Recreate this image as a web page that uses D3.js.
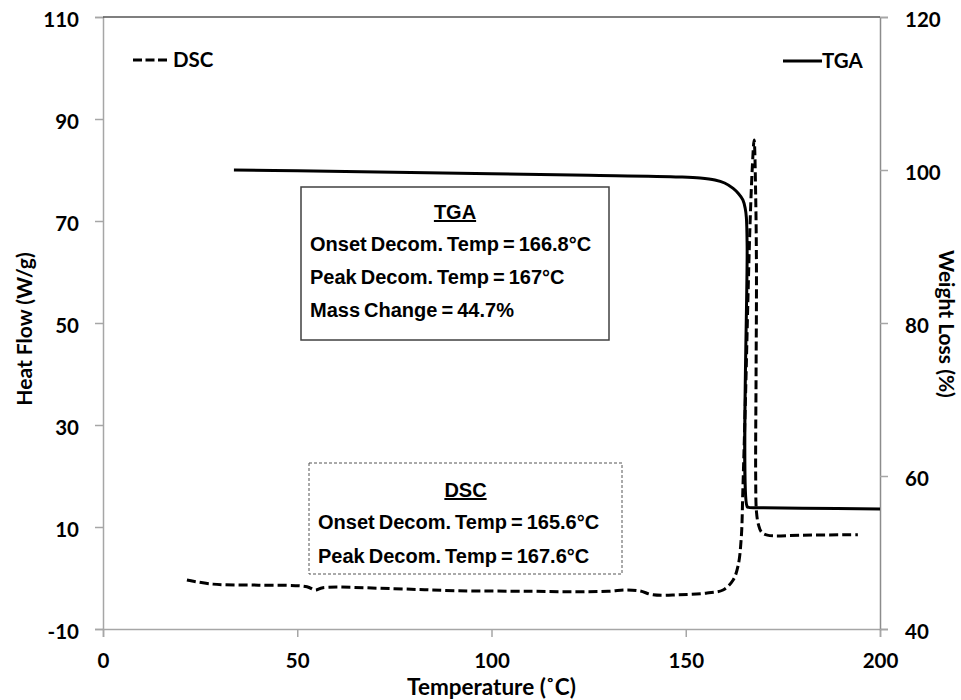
<!DOCTYPE html>
<html>
<head>
<meta charset="utf-8">
<script src="https://cdn.jsdelivr.net/npm/d3@7"></script>
<style>
  html, body { margin: 0; padding: 0; background: #fff; }
  svg { display: block; }
  .tick text { font-family: Lato, "Open Sans", sans-serif; font-weight: 700; font-size: 20.5px; fill: #000; }
  .title { font-family: Lato, "Open Sans", sans-serif; font-weight: 700; font-size: 21px; fill: #000; }
  .note { font-family: "Liberation Sans", Arial, sans-serif; font-weight: 700; font-size: 20px; fill: #000; word-spacing: -1.5px; }
</style>
</head>
<body>
<script>
// Temperature (°C) and DSC heat flow (W/g)
const dscTemp = [21.6, 28.3, 40, 52.5, 54.6, 56.6, 75, 91.1, 110, 121, 130, 134.9, 138.2, 141.6, 148, 155.5, 159.6, 162.2, 163.5, 164.3, 164.7, 165.4, 166.0, 166.5, 167.1, 167.6, 168.0, 168.2, 168.1, 168.0, 168.2, 168.7, 169.5, 171, 180, 194.3];
const dscFlow = [-0.4, -1.2, -1.4, -1.7, -2.35, -1.9, -2.1, -2.5, -2.6, -2.7, -2.6, -2.35, -2.55, -3.3, -3.3, -2.95, -2.35, -0.4, 2.5, 8, 17.3, 36, 54.5, 68.2, 80, 85.9, 75, 60, 40, 20, 13, 10.5, 9.0, 8.4, 8.4, 8.5];

// Temperature (°C) and TGA weight (%)
const tgaTemp = [33.7, 50, 75, 100, 125, 148.5, 153.7, 157.5, 160, 162.2, 163.6, 164.7, 165.3, 165.6, 165.8, 165.8, 166.2, 170, 180, 200];
const tgaWeight = [100.0, 99.9, 99.7, 99.5, 99.3, 99.08, 98.95, 98.7, 98.3, 97.6, 96.9, 96.1, 95.0, 93.8, 90, 56.0, 55.9, 55.85, 55.8, 55.7];

// Axis ticks
const xTicks = [0, 50, 100, 150, 200];
const leftTicks = [-10, 10, 30, 50, 70, 90, 110];
const rightTicks = [40, 60, 80, 100, 120];

// Annotation text
const tgaNotes = ["TGA", "Onset Decom. Temp = 166.8°C", "Peak Decom. Temp = 167°C", "Mass Change = 44.7%"];
const dscNotes = ["DSC", "Onset Decom. Temp = 165.6°C", "Peak Decom. Temp = 167.6°C"];

const W = 961, H = 700;
const svg = d3.select("body").append("svg").attr("width", W).attr("height", H);

const x = d3.scaleLinear().domain([0, 200]).range([103, 880]);
const yL = d3.scaleLinear().domain([-10, 110]).range([629, 17]);
const yR = d3.scaleLinear().domain([40, 120]).range([629, 17]);

const axisColor = "#a6a6a6";
const plain = d => String(d);

// Axes
const gx = svg.append("g").attr("transform", `translate(0,${yL(-10)})`)
  .call(d3.axisBottom(x).tickValues(xTicks).tickSize(8).tickPadding(16).tickFormat(plain));
const gl = svg.append("g").attr("transform", `translate(${x(0)},0)`)
  .call(d3.axisLeft(yL).tickValues(leftTicks).tickSize(8).tickPadding(16).tickFormat(plain));
const gr = svg.append("g").attr("transform", `translate(${x(200)},0)`)
  .call(d3.axisRight(yR).tickValues(rightTicks).tickSize(8).tickPadding(17).tickFormat(plain));

[gx, gl, gr].forEach(g => {
  g.select(".domain").attr("stroke", axisColor).attr("stroke-width", 1.5);
  g.selectAll(".tick line").attr("stroke", axisColor).attr("stroke-width", 1.5);
});
gl.selectAll(".tick text").attr("dy", "0.45em");
gr.selectAll(".tick text").attr("dy", "0.45em");
gx.selectAll(".tick text").attr("dy", "0.72em");
gr.select(".domain").attr("stroke", "#8c8c8c");

// Top border of the plot area
svg.append("line")
  .attr("x1", x(0)).attr("x2", x(200)).attr("y1", yL(110)).attr("y2", yL(110))
  .attr("stroke", "#555").attr("stroke-width", 1.5);

// Axis titles
svg.append("text").attr("class", "title").style("font-size", "22.5px")
  .attr("x", x(100)).attr("y", 695).attr("text-anchor", "middle")
  .text("Temperature (˚C)");
svg.append("text").attr("class", "title")
  .attr("transform", `translate(32,${yL(50) + 6}) rotate(-90)`).attr("text-anchor", "middle")
  .text("Heat Flow (W/g)");
svg.append("text").attr("class", "title")
  .attr("transform", `translate(939,${yL(50) + 1}) rotate(90)`).attr("text-anchor", "middle")
  .text("Weight Loss (%)");

// Curves
const smooth = d3.curveCatmullRom.alpha(0.5);
svg.append("path")
  .datum(tgaTemp.map((t, i) => [t, tgaWeight[i]]))
  .attr("d", d3.line().x(d => x(d[0])).y(d => yR(d[1])).curve(smooth))
  .attr("fill", "none").attr("stroke", "#000").attr("stroke-width", 3);

svg.append("path")
  .datum(dscTemp.map((t, i) => [t, dscFlow[i]]))
  .attr("d", d3.line().x(d => x(d[0])).y(d => yL(d[1])).curve(smooth))
  .attr("fill", "none").attr("stroke", "#000").attr("stroke-width", 3)
  .attr("stroke-dasharray", "9,4");

// Legend
svg.append("line").attr("x1", 133).attr("x2", 167).attr("y1", 60).attr("y2", 60)
  .attr("stroke", "#000").attr("stroke-width", 3).attr("stroke-dasharray", "9,3.5");
svg.append("text").attr("class", "title").style("font-size", "20.5px")
  .attr("x", 173).attr("y", 67).text("DSC");
svg.append("line").attr("x1", 783).attr("x2", 822).attr("y1", 61).attr("y2", 61)
  .attr("stroke", "#000").attr("stroke-width", 3);
svg.append("text").attr("class", "title").style("font-size", "20.5px")
  .attr("x", 822).attr("y", 68).text("TGA");

// Annotation boxes
function noteBox(x0, y0, w, h, lines, rowY, dashed) {
  const g = svg.append("g");
  g.append("rect").attr("x", x0).attr("y", y0).attr("width", w).attr("height", h)
    .attr("fill", "#fff")
    .attr("stroke", dashed ? "#555" : "#404040")
    .attr("stroke-width", dashed ? 1 : 1.5)
    .attr("stroke-dasharray", dashed ? "3,2" : null);
  lines.forEach((s, i) => {
    const t = g.append("text").attr("class", "note").attr("y", rowY[i] + 7).text(s);
    if (i === 0) {
      t.attr("x", x0 + w / 2).attr("text-anchor", "middle").attr("text-decoration", "underline");
    } else {
      t.attr("x", x0 + 9);
    }
  });
}
noteBox(301, 187, 308, 153, tgaNotes, [212, 244, 277, 310], false);
noteBox(309, 463, 313, 111, dscNotes, [490, 522, 556], true);
</script>
</body>
</html>
